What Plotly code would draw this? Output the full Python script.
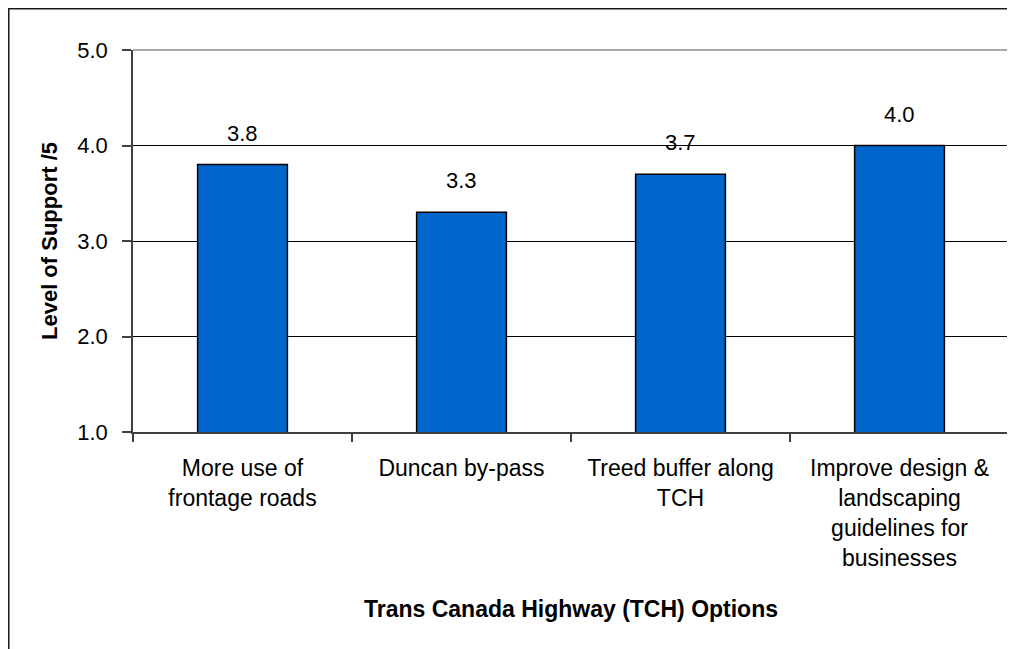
import plotly.graph_objects as go

categories = [
    "More use of<br>frontage roads",
    "Duncan by-pass",
    "Treed buffer along<br>TCH",
    "Improve design &<br>landscaping<br>guidelines for<br>businesses",
]
support = [3.8, 3.3, 3.7, 4.0]
y_ticks = [1.0, 2.0, 3.0, 4.0, 5.0]
y_title = "Level of Support /5"
x_title = "Trans Canada Highway (TCH) Options"

FONT = "Liberation Sans, Arial, sans-serif"

fig = go.Figure()
fig.add_trace(go.Bar(
    x=categories,
    y=support,
    marker=dict(color="#0066CC", line=dict(color="#000000", width=1.5)),
    hoverinfo="skip",
))

annotations = [
    dict(x=c, y=v, xref="x", yref="y", text=f"{v:.1f}", showarrow=False,
         yanchor="bottom", yshift=17, font=dict(family=FONT, size=22, color="#000"))
    for c, v in zip(categories, support)
]

shapes = [
    # outer chart frame (extends beyond the visible page at right/bottom)
    dict(type="rect", xref="paper", yref="paper", x0=-0.1421, x1=1.05, y0=-0.7, y1=1.1086,
         line=dict(color="#1a1a1a", width=2), layer="below"),
    # plot-area border top and right (gray)
    dict(type="line", xref="paper", yref="paper", x0=0, x1=1, y0=1, y1=1,
         line=dict(color="#8c8c8c", width=1.5), layer="above"),
    dict(type="line", xref="paper", yref="paper", x0=1, x1=1, y0=0, y1=1,
         line=dict(color="#8c8c8c", width=1.5), layer="above"),
]

fig.update_layout(
    width=1007, height=641,
    margin=dict(l=125, r=6, t=42, b=217, pad=0),
    paper_bgcolor="white", plot_bgcolor="white",
    showlegend=False,
    bargap=0.59,
    font=dict(family=FONT, size=22, color="#000"),
    annotations=annotations,
    shapes=shapes,
)

fig.update_yaxes(
    range=[1, 5], tickvals=y_ticks, ticktext=[f"{t:.1f}" for t in y_ticks],
    showgrid=True, gridcolor="#000000", gridwidth=1,
    showline=True, linecolor="#404040", linewidth=1.5,
    ticks="outside", ticklen=9, tickcolor="#404040", tickwidth=1.5,
    ticklabelstandoff=10,
    tickfont=dict(family=FONT, size=22, color="#000"),
    zeroline=False, automargin=False,
    title=dict(text=f"<b>{y_title}</b>", font=dict(family=FONT, size=22, color="#000"), standoff=14),
)
fig.update_xaxes(
    type="category", tickson="boundaries",
    showgrid=False,
    showline=True, linecolor="#404040", linewidth=1.5,
    ticks="outside", ticklen=8, tickcolor="#404040", tickwidth=1.5,
    ticklabelstandoff=15,
    tickfont=dict(family=FONT, size=23, color="#000"),
    automargin=False,
    title=dict(text=f"<b>{x_title}</b>", font=dict(family=FONT, size=23, color="#000"), standoff=31),
)

fig.write_html("out.html")
